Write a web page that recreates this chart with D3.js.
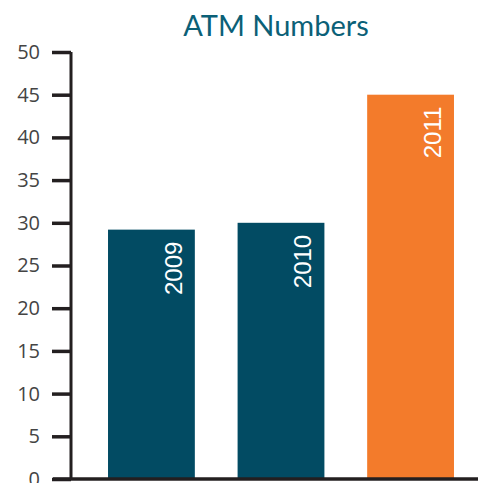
<!DOCTYPE html>
<html>
<head>
<meta charset="utf-8">
<script src="https://cdn.jsdelivr.net/npm/d3@7"></script>
<style>
  body { margin: 0; background: #fff; }
</style>
</head>
<body>
<div id="chart"></div>
<script>
const years = ["2009", "2010", "2011"];
const atmCounts = [29.2, 30, 45];
const barColors = ["#024b63", "#024b63", "#f37b2b"];
const yTicks = [0, 5, 10, 15, 20, 25, 30, 35, 40, 45, 50];

const w = 478, h = 483;
const svg = d3.select("#chart").append("svg")
    .attr("width", w)
    .attr("height", h);

const y = d3.scaleLinear().domain([0, 50]).range([479, 52]);
const x = d3.scaleBand().domain(years).range([72, 490])
    .paddingInner(0.33).paddingOuter(0.278);

// title
svg.append("text")
    .attr("x", 276).attr("y", 36)
    .attr("text-anchor", "middle")
    .style("font-family", "Lato, 'Open Sans', sans-serif")
    .style("font-size", "29px")
    .style("fill", "#0b6077")
    .text("ATM Numbers");

// bars
svg.selectAll("rect.bar")
    .data(years)
    .enter()
    .append("rect")
    .attr("class", "bar")
    .attr("x", d => x(d))
    .attr("width", x.bandwidth())
    .attr("y", (d, i) => y(atmCounts[i]))
    .attr("height", (d, i) => y(0) - y(atmCounts[i]))
    .style("fill", (d, i) => barColors[i]);

// year labels inside bars
svg.selectAll("text.year")
    .data(years)
    .enter()
    .append("text")
    .attr("class", "year")
    .attr("transform", (d, i) => `translate(${x(d) + x.bandwidth() - 13},${y(atmCounts[i]) + 12}) rotate(-90)`)
    .attr("text-anchor", "end")
    .style("font-family", "'Liberation Sans', Arial, sans-serif")
    .style("font-size", "24px")
    .style("fill", "#fff")
    .text(d => d);

// y axis
const yAxis = d3.axisLeft(y).tickValues(yTicks).tickSize(19).tickPadding(12);
const gy = svg.append("g")
    .attr("transform", "translate(71,0)")
    .call(yAxis);
gy.select(".domain").attr("d", `M0,${y(50)}V${y(0)}`)
    .style("stroke", "#231f20").style("stroke-width", 3);
gy.selectAll(".tick line").style("stroke", "#231f20").style("stroke-width", 3.5);
gy.selectAll(".tick text")
    .style("font-family", "'Open Sans', 'Noto Sans', sans-serif")
    .style("font-size", "20px")
    .style("fill", "#444");

// baseline
svg.append("line")
    .attr("x1", 53).attr("x2", w)
    .attr("y1", y(0)).attr("y2", y(0))
    .style("stroke", "#231f20").style("stroke-width", 3.5);
</script>
</body>
</html>
